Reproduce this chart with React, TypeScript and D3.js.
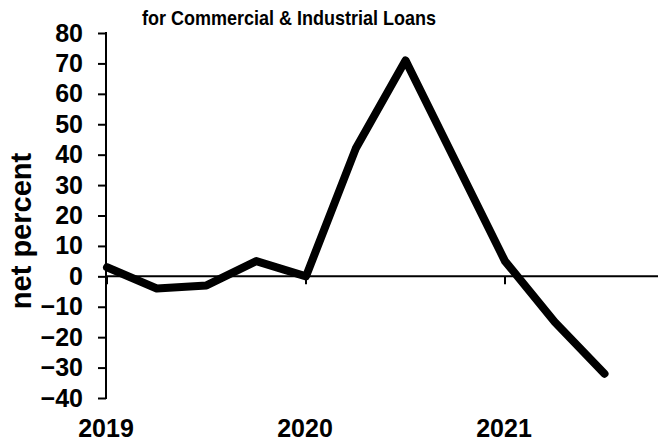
import React, { useEffect, useRef } from 'react';
import * as d3 from 'd3';

// quarterly net percent, 2019Q1 .. 2021Q3
const quarters = ['2019Q1', '2019Q2', '2019Q3', '2019Q4', '2020Q1', '2020Q2', '2020Q3', '2020Q4', '2021Q1', '2021Q2', '2021Q3'];
const values = [3, -4, -3, 5, 0, 42, 71, 38, 5, -15, -32];
const yTicks = [80, 70, 60, 50, 40, 30, 20, 10, 0, -10, -20, -30, -40];
const yearLabels = ['2019', '2020', '2021'];
const yearQuarters = ['2019Q1', '2020Q1', '2021Q1'];

const W = 658;
const H = 445;
const FONT = '"Liberation Sans", Arial, Helvetica, sans-serif';

const App: React.FC = () => {
  const svgRef = useRef<SVGSVGElement>(null);

  useEffect(() => {
    if (!svgRef.current) return;
    const svg = d3.select(svgRef.current);
    svg.selectAll('*').remove();

    const axisX = 106;
    const x = d3.scalePoint<string>().domain(quarters).range([107, 604.5]);
    const y = d3.scaleLinear().domain([-40, 80]).range([398, 33]);

    // title (the original font is a little narrower and taller)
    svg.append('text')
      .attr('transform', 'translate(289,25) scale(0.9,1)')
      .attr('text-anchor', 'middle')
      .style('font-family', FONT)
      .style('font-weight', 'bold')
      .style('font-size', '20px')
      .text('for Commercial & Industrial Loans');

    // y axis title
    svg.append('text')
      .attr('transform', `translate(31,231) rotate(-90)`)
      .attr('text-anchor', 'middle')
      .style('font-family', FONT)
      .style('font-weight', 'bold')
      .style('font-size', '29px')
      .text('net percent');

    // zero line
    svg.append('line')
      .attr('x1', axisX).attr('x2', W)
      .attr('y1', y(0)).attr('y2', y(0))
      .attr('stroke', '#000')
      .attr('stroke-width', 2);

    // y axis
    const yAxis = d3.axisLeft(y)
      .tickValues(yTicks)
      .tickSize(8)
      .tickPadding(15)
      .tickFormat(d3.format('d'));
    const gy = svg.append('g')
      .attr('transform', `translate(${axisX},0)`)
      .call(yAxis);
    gy.select('.domain').remove();
    gy.append('line')
      .attr('x1', 0).attr('x2', 0)
      .attr('y1', y(80) - 1).attr('y2', y(-40) + 1)
      .attr('stroke', '#000')
      .attr('stroke-width', 2);
    gy.selectAll('.tick line').attr('stroke', '#000').attr('stroke-width', 2);
    gy.selectAll('.tick text')
      .attr('fill', '#000')
      .style('font-family', FONT)
      .style('font-weight', 'bold')
      .style('font-size', '25px');

    // year ticks on zero line
    svg.append('g')
      .selectAll('line')
      .data(yearQuarters)
      .join('line')
      .attr('x1', d => x(d)!).attr('x2', d => x(d)!)
      .attr('y1', y(0)).attr('y2', y(0) + 8)
      .attr('stroke', '#000')
      .attr('stroke-width', 2);

    // year labels
    svg.append('g')
      .selectAll('text')
      .data(yearLabels)
      .join('text')
      .attr('x', (d, i) => x(yearQuarters[i])! - 1)
      .attr('y', 437)
      .attr('text-anchor', 'middle')
      .style('font-family', FONT)
      .style('font-weight', 'bold')
      .style('font-size', '25px')
      .text(d => d);

    // series line
    const line = d3.line<number>()
      .x((d, i) => x(quarters[i])!)
      .y(d => y(d));
    svg.append('path')
      .datum(values)
      .attr('d', line)
      .attr('fill', 'none')
      .attr('stroke', '#000')
      .attr('stroke-width', 8)
      .attr('stroke-linejoin', 'round')
      .attr('stroke-linecap', 'round');
  }, []);

  return (
    <svg
      ref={svgRef}
      width={W}
      height={H}
      style={{ position: 'absolute', left: 0, top: 0, background: '#fff' }}
    />
  );
};

export default App;
